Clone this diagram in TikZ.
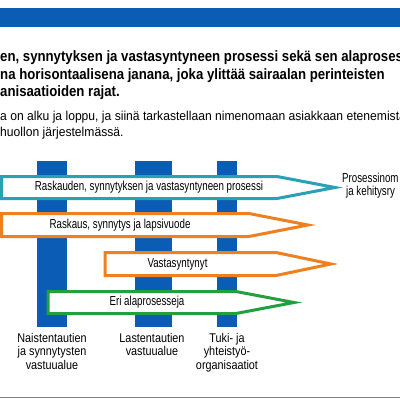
\documentclass[tikz,border=0pt]{standalone}
\usepackage{fontspec}
\setmainfont{Liberation Sans}[FakeStretch=0.88]
\newfontfamily\procfont{Liberation Sans}[FakeStretch=0.75]
\newfontfamily\unitfont{Liberation Sans}[FakeStretch=0.86]
\newfontfamily\introfont{Liberation Sans}[FakeStretch=0.94]
\usepackage{xcolor}
\definecolor{hsblue}{HTML}{0A5CB4}
\definecolor{hsteal}{HTML}{2A9FB5}
\definecolor{hsorange}{HTML}{EE8020}
\definecolor{hsgreen}{HTML}{22A040}
\tikzset{
    column/.style = {fill=hsblue, draw=none},
    proc/.style = {fill=white, draw=#1, line width=3pt, line join=miter},
    plabel/.style = {inner sep=0pt, font=\procfont\fontsize{13}{14}\selectfont},
    unit/.style = {align=center, inner sep=0pt, anchor=north, font=\unitfont\fontsize{12.6}{13.5}\selectfont},
    head/.style = {anchor=west, inner sep=0pt, font=\bfseries\fontsize{15}{17.5}\selectfont},
    intro/.style = {anchor=west, inner sep=0pt, font=\introfont\fontsize{12.9}{16}\selectfont}
}

\begin{document}
\begin{tikzpicture}[x=1pt, y=-1pt]
    \useasboundingbox (0,0) rectangle (400,400);
    \clip (0,0) rectangle (400,400);
    % top band and bottom rule
    \fill[hsblue] (0,8) rectangle (400,27);
    \draw[gray, line width=1pt] (0,397) -- (400,397);
    % heading
    \node[head] (h1) at (0,58) {en, synnytyksen ja vastasyntyneen prosessi sekä sen alaproses};
    \node[head] (h2) at (0,75.5) {na horisontaalisena janana, joka ylittää sairaalan perinteisten};
    \node[head] (h3) at (0,93) {anisaatioiden rajat.};
    \node[intro] (i1) at (0,117) {a on alku ja loppu, ja siinä tarkastellaan nimenomaan asiakkaan etenemistä};
    \node[intro] (i2) at (0,133) {huollon järjestelmässä.};
    % columns
    \fill[column] (37,161) rectangle (67,327);
    \fill[column] (135,161) rectangle (172,327);
    \fill[column] (217,161) rectangle (237,327);
    % process arrows
    \draw[proc=hsteal] (1.5,176.5) -- (277,176.5) -- (335,187.5) -- (277,198.5) -- (1.5,198.5) -- cycle;
    \node[plabel] (p1) at (149,187.5) {Raskauden, synnytyksen ja vastasyntyneen prosessi};
    \draw[proc=hsorange] (1.5,213.5) -- (249,213.5) -- (308,225) -- (249,236.5) -- (1.5,236.5) -- cycle;
    \node[plabel] (p2) at (120,225) {Raskaus, synnytys ja lapsivuode};
    \draw[proc=hsorange] (105,252.5) -- (276,252.5) -- (331,264) -- (276,275.5) -- (105,275.5) -- cycle;
    \node[plabel] (p3) at (177.5,264) {Vastasyntynyt};
    \draw[proc=hsgreen] (48,291.5) -- (236,291.5) -- (294,302.5) -- (236,313.5) -- (48,313.5) -- cycle;
    \node[plabel] (p4) at (147,302.5) {Eri alaprosesseja};
    % right label
    \node[plabel, anchor=west] (own1) at (342,178) {Prosessinom};
    \node[plabel, anchor=west] (own2) at (346,192) {ja kehitysry};
    % units
    \node[unit] (u1) at (52,333) {Naistentautien\\ja synnytysten\\vastuualue};
    \node[unit] (u2) at (152,333) {Lastentautien\\vastuualue};
    \node[unit] (u3) at (227,333) {Tuki- ja\\yhteistyö-\\organisaatiot};
\end{tikzpicture}
\end{document}
